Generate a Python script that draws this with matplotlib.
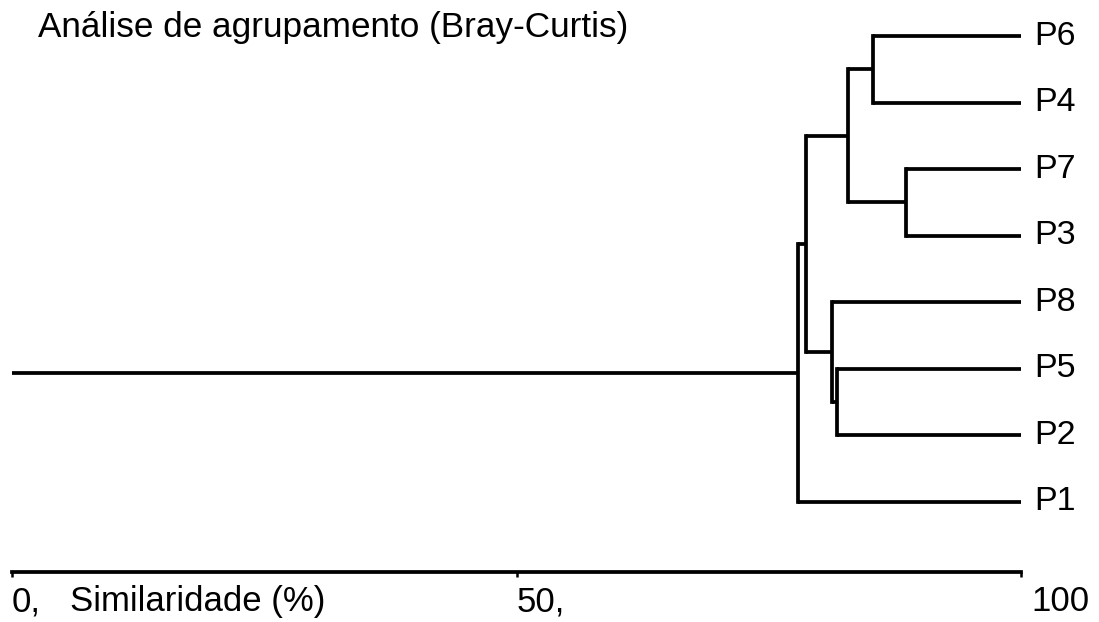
import matplotlib
matplotlib.use("Agg")
import matplotlib.pyplot as plt

plt.rcParams['font.family'] = ['Liberation Sans', 'DejaVu Sans']

# leaf order from top to bottom
leaves = ["P6", "P4", "P7", "P3", "P8", "P5", "P2", "P1"]

# merges: cluster_a + cluster_b at similarity (%), giving node G1..G7
cluster_a = ["P6", "P7", "G1", "P5", "P8", "G3", "G6"]
cluster_b = ["P4", "P3", "G2", "P2", "G4", "G5", "P1"]
similarity = [85.3, 88.6, 82.9, 81.8, 81.3, 78.7, 77.9]

scale_ticks = [0, 50, 100]
scale_labels = ["0,", "50,", "100"]

W, H = 1099, 622
fig = plt.figure(figsize=(W / 100, H / 100), dpi=100)
ax = fig.add_axes([12 / W, 0, 1009 / W, 1])
ax.set_xlim(0, 100)
ax.set_ylim(8.803, -0.541)
ax.axis('off')

lw = 2.7
ypos = {name: i for i, name in enumerate(leaves)}
xpos = {name: 100 for name in leaves}

for i, (a, b, s) in enumerate(zip(cluster_a, cluster_b, similarity)):
    node = "G%d" % (i + 1)
    ax.plot([s, s], [ypos[a], ypos[b]], color='black', lw=lw, solid_capstyle='projecting')
    for c in (a, b):
        ax.plot([s, xpos[c]], [ypos[c], ypos[c]], color='black', lw=lw, solid_capstyle='butt')
    ypos[node] = (ypos[a] + ypos[b]) / 2
    xpos[node] = s

root = "G%d" % len(similarity)
ax.plot([0, xpos[root]], [ypos[root], ypos[root]], color='black', lw=lw, solid_capstyle='butt')

for name in leaves:
    ax.text(101.3, ypos[name], name, ha='left', va='center', fontsize=24.5)

# similarity scale
axis_y = 8.05
ax.plot([0, 100], [axis_y, axis_y], color='black', lw=lw, clip_on=False)
ax.vlines(scale_ticks, axis_y, axis_y + 0.07, color='black', lw=1.8, clip_on=False)
for t, lab in zip(scale_ticks, scale_labels):
    off = 1.0 if t == 100 else 0
    ax.text(t + off, 8.5, lab, ha='left', va='center', fontsize=25, clip_on=False)
ax.text((70 - 12) / 10.09, 8.5, "Similaridade (%)", ha='left', va='center', fontsize=25)

fig.text(38 / W, 1 - 28 / H, "Análise de agrupamento (Bray-Curtis)", ha='left', va='center', fontsize=25.3)

fig.savefig("out.png", dpi=100)
